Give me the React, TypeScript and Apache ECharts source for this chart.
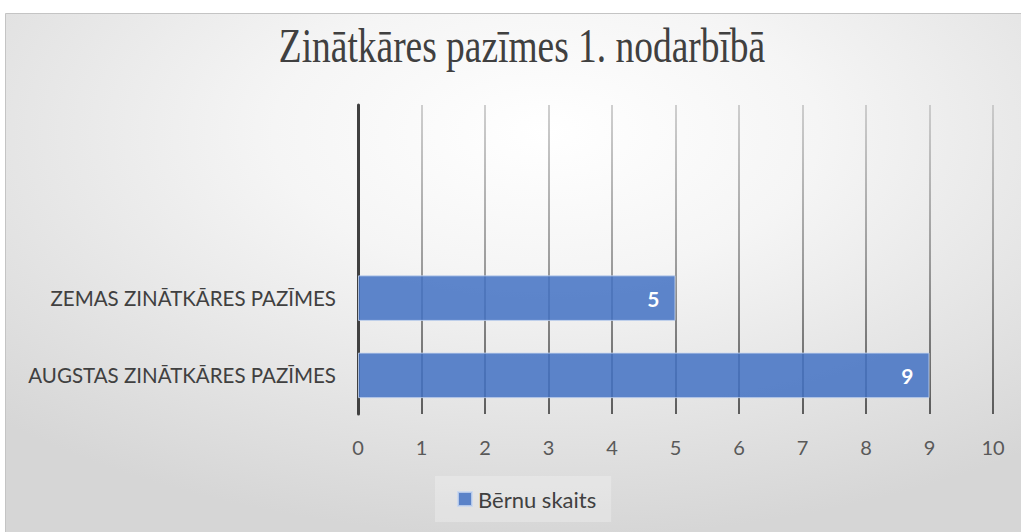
import React, { useEffect, useRef } from "react";
import * as echarts from "echarts";

const titleText = "Zinātkāres pazīmes 1. nodarbībā";
const categories = ["AUGSTAS ZINĀTKĀRES PAZĪMES", "ZEMAS ZINĀTKĀRES PAZĪMES", " ", "  "];
const seriesName = "Bērnu skaits";
const values = [9, 5, null, null];
const xMin = 0;
const xMax = 10;
const xStep = 1;

export default function App() {
  const ref = useRef<HTMLDivElement>(null);
  useEffect(() => {
    if (!ref.current) return;
    const chart = echarts.init(ref.current, undefined, { renderer: "svg" });
    chart.setOption({
      animation: false,
      backgroundColor: "#ffffff",
      graphic: [
        {
          type: "rect",
          z: -10,
          silent: true,
          shape: { x: 5.5, y: 13.5, width: 1040, height: 540 },
          style: {
            fill: {
              type: "radial",
              x: 0.52,
              y: 0.22,
              r: 0.75,
              colorStops: [
                { offset: 0, color: "#ffffff" },
                { offset: 0.35, color: "#f5f5f5" },
                { offset: 1, color: "#d6d6d6" },
              ],
            },
            stroke: "#c4c4c4",
            lineWidth: 1,
          },
        },
        {
          type: "text",
          silent: true,
          x: 522,
          y: 22,
          scaleX: 0.78,
          style: {
            text: titleText,
            align: "center",
            verticalAlign: "top",
            fontFamily: "Liberation Serif",
            fontSize: 48,
            fill: "#404040",
          },
        },
      ],
      legend: {
        bottom: 10,
        left: 435,
        itemWidth: 14,
        itemHeight: 14,
        itemGap: 10,
        padding: [12, 15, 12, 22],
        backgroundColor: "rgba(255,255,255,0.25)",
        textStyle: { fontFamily: "Lato", fontSize: 22, color: "#404040", padding: [0, 0, 0, 1] },
        data: [{ name: seriesName, icon: "rect" }],
      },
      grid: { left: 358, right: 28, top: 105, bottom: 118, containLabel: false },
      xAxis: {
        type: "value",
        min: xMin,
        max: xMax,
        interval: xStep,
        axisLine: { show: false },
        axisTick: { show: false },
        axisLabel: {
          margin: 23,
          fontFamily: "Lato",
          fontSize: 20,
          color: "#595959",
        },
        splitLine: {
          show: true,
          lineStyle: {
            width: 1.5,
            color: new echarts.graphic.LinearGradient(
              0,
              105,
              0,
              414,
              [
                { offset: 0, color: "#c0c0c0" },
                { offset: 0.5, color: "#808080" },
                { offset: 1, color: "#303030" },
              ],
              true
            ),
          },
        },
      },
      yAxis: {
        type: "category",
        data: categories,
        axisLine: { show: true, lineStyle: { color: "#404040", width: 3 } },
        axisTick: { show: false },
        axisLabel: {
          margin: 22,
          fontFamily: "Lato",
          fontSize: 20.5,
          color: "#404040",
        },
      },
      series: [
        {
          name: seriesName,
          type: "bar",
          data: values,
          barWidth: "59%",
          itemStyle: {
            color: "rgba(68,114,196,0.86)",
            borderColor: "rgba(200,215,240,0.8)",
            borderWidth: 1,
          },
          label: {
            show: true,
            position: "insideRight",
            distance: 16,
            color: "#ffffff",
            fontWeight: "bold",
            fontFamily: "Lato",
            fontSize: 21,
          },
        },
      ],
    });
    return () => chart.dispose();
  }, []);
  return (
    <div
      ref={ref}
      style={{ position: "fixed", left: 0, top: 0, width: 1021, height: 532 }}
    />
  );
}
